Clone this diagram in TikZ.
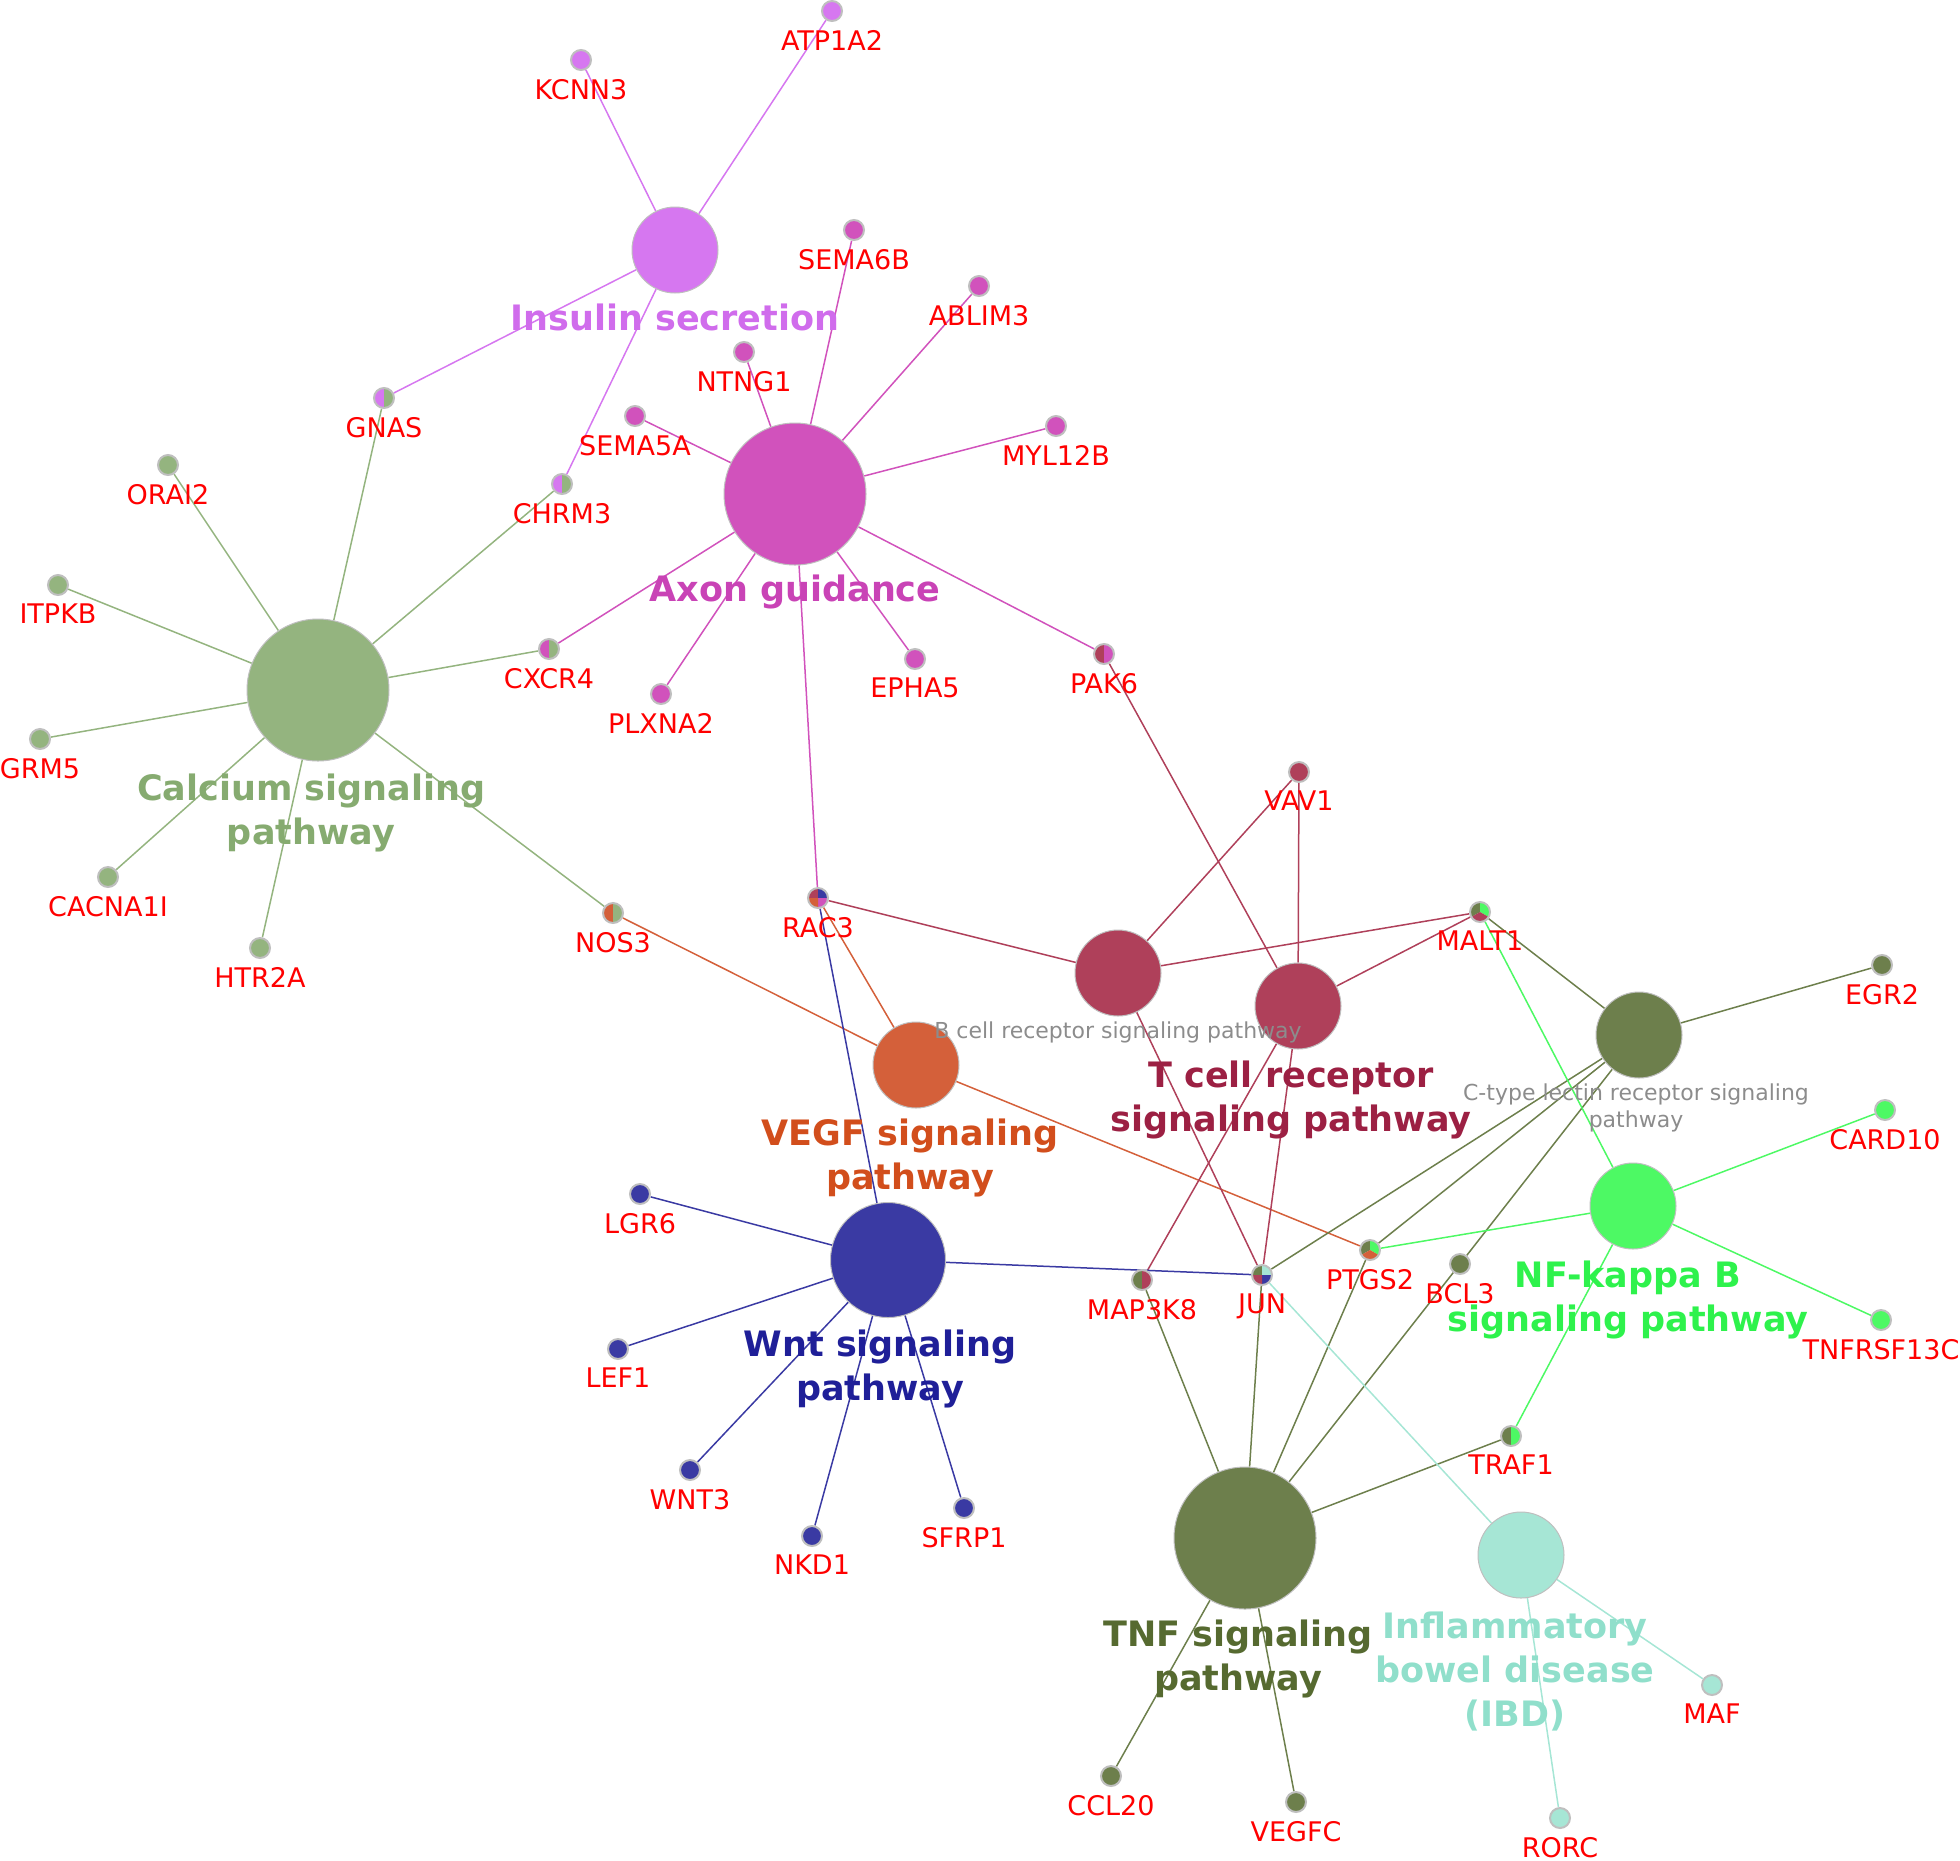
\documentclass[tikz,border=0pt]{standalone}
\usepackage{fontspec}
\setmainfont{DejaVu Sans}
\usepackage{xcolor}
\usetikzlibrary{positioning,backgrounds}

\definecolor{ins}{HTML}{D677F0}
\definecolor{axn}{HTML}{D152BC}
\definecolor{cal}{HTML}{94B47F}
\definecolor{vegf}{HTML}{D4603A}
\definecolor{tcr}{HTML}{AF405A}
\definecolor{olv}{HTML}{6D7F4C}
\definecolor{nfk}{HTML}{4DF964}
\definecolor{wnt}{HTML}{3A3AA3}
\definecolor{ibd}{HTML}{A6E6D5}
\definecolor{insl}{HTML}{D06CEC}
\definecolor{axnl}{HTML}{C943B6}
\definecolor{call}{HTML}{86AB70}
\definecolor{vegfl}{HTML}{D24E1C}
\definecolor{tcrl}{HTML}{9C2043}
\definecolor{tnfl}{HTML}{566A30}
\definecolor{nfkl}{HTML}{2EF24C}
\definecolor{wntl}{HTML}{1F1F98}
\definecolor{ibdl}{HTML}{90DFCB}

\begin{document}
\begin{tikzpicture}[
  x=0.5pt, y=-0.5pt,
  node distance=3.8pt,
  hub/.style={circle, draw=black!25, line width=0.5pt, inner sep=0pt, minimum size=43pt},
  midhub/.style={hub, minimum size=57.5pt},
  bighub/.style={hub, minimum size=71pt},
  gene/.style={circle, draw=black!25, line width=1pt, inner sep=0pt, minimum size=10pt},
  pie/.style={path picture={\foreach \a/\b/\c in {#1}
      \fill[\c] (path picture bounding box.center) -- ++(\a:8pt)
        arc[start angle=\a, end angle=\b, radius=8pt] -- cycle;}},
  glab/.style={text=red, inner sep=0pt, font=\fontsize{13.5}{16}\selectfont},
  hlab/.style={align=center, inner sep=0pt, font=\fontsize{17.5}{22}\selectfont\bfseries},
  slab/.style={align=center, inner sep=0pt, text=black!45, font=\fontsize{11}{13.5}\selectfont},
  edge/.style={line width=0.75pt}]
\useasboundingbox (0,0) rectangle (1960,1860);

% pathway hubs
\node[hub, fill=ins] (insh) at (675,250) {};
\node[bighub, fill=axn] (axnh) at (795,494) {};
\node[bighub, fill=cal] (calh) at (318,690) {};
\node[hub, fill=vegf] (vegfh) at (916,1065) {};
\node[hub, fill=tcr] (bcrh) at (1118,973) {};
\node[hub, fill=tcr] (tcrh) at (1298,1006) {};
\node[hub, fill=olv] (ctlh) at (1639,1035) {};
\node[hub, fill=nfk] (nfkh) at (1633,1206) {};
\node[midhub, fill=wnt] (wnth) at (888,1260) {};
\node[bighub, fill=olv] (tnfh) at (1245,1538) {};
\node[hub, fill=ibd] (ibdh) at (1521,1555) {};

\node[hlab, text=insl] (inst) at (675,317) {Insulin secretion};
\node[hlab, text=axnl] (axnt) at (795,592) {Axon guidance};
\node[hlab, text=call] (calt) at (311,813) {Calcium signaling\\pathway};
\node[hlab, text=vegfl] (vegft) at (910,1158) {VEGF signaling\\pathway};
\node[slab] (bcrt) at (1118,1032) {B cell receptor signaling pathway};
\node[hlab, text=tcrl] (tcrt) at (1291,1100) {T cell receptor\\signaling pathway};
\node[slab] (ctlt) at (1636,1108) {C-type lectin receptor signaling\\pathway};
\node[hlab, text=nfkl] (nfkt) at (1628,1300) {NF-kappa B\\signaling pathway};
\node[hlab, text=wntl] (wntt) at (880,1369) {Wnt signaling\\pathway};
\node[hlab, text=tnfl] (tnft) at (1238,1659) {TNF signaling\\pathway};
\node[hlab, text=ibdl] (ibdt) at (1515,1671) {Inflammatory\\bowel disease\\(IBD)};

% genes
\node[gene, fill=ins] (kcnn3) at (581,60) {};
\node[glab, below=of kcnn3] (kcnn3t) {KCNN3};
\node[gene, fill=ins] (atp1a2) at (832,11) {};
\node[glab, below=of atp1a2] (atp1a2t) {ATP1A2};
\node[gene, pie={90/270/ins,-90/90/cal}] (gnas) at (384,398) {};
\node[glab, below=of gnas] (gnast) {GNAS};
\node[gene, pie={90/270/ins,-90/90/cal}] (chrm3) at (562,484) {};
\node[glab, below=of chrm3] (chrm3t) {CHRM3};
\node[gene, fill=cal] (orai2) at (168,465) {};
\node[glab, below=of orai2] (orai2t) {ORAI2};
\node[gene, fill=cal] (itpkb) at (58,585) {};
\node[glab, below=of itpkb] (itpkbt) {ITPKB};
\node[gene, fill=cal] (grm5) at (40,739) {};
\node[glab, below=of grm5] (grm5t) {GRM5};
\node[gene, fill=cal] (cacna1i) at (108,877) {};
\node[glab, below=of cacna1i] (cacna1it) {CACNA1I};
\node[gene, fill=cal] (htr2a) at (260,948) {};
\node[glab, below=of htr2a] (htr2at) {HTR2A};
\node[gene, pie={90/270/vegf,-90/90/cal}] (nos3) at (613,913) {};
\node[glab, below=of nos3] (nos3t) {NOS3};
\node[gene, pie={90/270/axn,-90/90/cal}] (cxcr4) at (549,649) {};
\node[glab, below=of cxcr4] (cxcr4t) {CXCR4};
\node[gene, fill=axn] (sema5a) at (635,416) {};
\node[glab, below=of sema5a] (sema5at) {SEMA5A};
\node[gene, fill=axn] (ntng1) at (744,352) {};
\node[glab, below=of ntng1] (ntng1t) {NTNG1};
\node[gene, fill=axn] (sema6b) at (854,230) {};
\node[glab, below=of sema6b] (sema6bt) {SEMA6B};
\node[gene, fill=axn] (ablim3) at (979,286) {};
\node[glab, below=of ablim3] (ablim3t) {ABLIM3};
\node[gene, fill=axn] (myl12b) at (1056,426) {};
\node[glab, below=of myl12b] (myl12bt) {MYL12B};
\node[gene, fill=axn] (plxna2) at (661,694) {};
\node[glab, below=of plxna2] (plxna2t) {PLXNA2};
\node[gene, fill=axn] (epha5) at (915,659) {};
\node[glab, below=of epha5] (epha5t) {EPHA5};
\node[gene, pie={90/270/tcr,-90/90/axn}] (pak6) at (1104,654) {};
\node[glab, below=of pak6] (pak6t) {PAK6};
\node[gene, pie={90/180/tcr,0/90/wnt,-90/0/axn,180/270/vegf}] (rac3) at (818,898) {};
\node[glab, below=of rac3] (rac3t) {RAC3};
\node[gene, fill=tcr] (vav1) at (1299,772) {};
\node[glab, below=of vav1] (vav1t) {VAV1};
\node[gene, pie={90/210/olv,-30/90/nfk,210/330/tcr}] (malt1) at (1480,912) {};
\node[glab, below=of malt1] (malt1t) {MALT1};
\node[gene, fill=olv] (egr2) at (1882,965) {};
\node[glab, below=of egr2] (egr2t) {EGR2};
\node[gene, fill=nfk] (card10) at (1885,1110) {};
\node[glab, below=of card10] (card10t) {CARD10};
\node[gene, fill=nfk] (tnfrsf13c) at (1881,1320) {};
\node[glab, below=of tnfrsf13c] (tnfrsf13ct) {TNFRSF13C};
\node[gene, fill=wnt] (lgr6) at (640,1194) {};
\node[glab, below=of lgr6] (lgr6t) {LGR6};
\node[gene, fill=wnt] (lef1) at (618,1349) {};
\node[glab, below=of lef1] (lef1t) {LEF1};
\node[gene, fill=wnt] (wnt3) at (690,1470) {};
\node[glab, below=of wnt3] (wnt3t) {WNT3};
\node[gene, fill=wnt] (nkd1) at (812,1536) {};
\node[glab, below=of nkd1] (nkd1t) {NKD1};
\node[gene, fill=wnt] (sfrp1) at (964,1508) {};
\node[glab, below=of sfrp1] (sfrp1t) {SFRP1};
\node[gene, pie={90/270/olv,-90/90/tcr}] (map3k8) at (1142,1280) {};
\node[glab, below=of map3k8] (map3k8t) {MAP3K8};
\node[gene, pie={90/180/olv,0/90/ibd,-90/0/wnt,180/270/tcr}] (jun) at (1262,1275) {};
\node[glab, below=of jun] (junt) {JUN};
\node[gene, pie={90/210/olv,-30/90/nfk,210/330/vegf}] (ptgs2) at (1370,1250) {};
\node[glab, below=of ptgs2] (ptgs2t) {PTGS2};
\node[gene, fill=olv] (bcl3) at (1460,1264) {};
\node[glab, below=of bcl3] (bcl3t) {BCL3};
\node[gene, pie={90/270/olv,-90/90/nfk}] (traf1) at (1511,1436) {};
\node[glab, below=of traf1] (traf1t) {TRAF1};
\node[gene, fill=olv] (ccl20) at (1111,1776) {};
\node[glab, below=of ccl20] (ccl20t) {CCL20};
\node[gene, fill=olv] (vegfc) at (1296,1802) {};
\node[glab, below=of vegfc] (vegfct) {VEGFC};
\node[gene, fill=ibd] (maf) at (1712,1685) {};
\node[glab, below=of maf] (maft) {MAF};
\node[gene, fill=ibd] (rorc) at (1560,1818) {};
\node[glab, below=of rorc] (rorct) {RORC};

% edges
\begin{pgfonlayer}{background}
\draw[edge, ins] (insh) -- (kcnn3) (insh) -- (atp1a2) (insh) -- (gnas) (insh) -- (chrm3);
\draw[edge, axn] (axnh) -- (sema5a) (axnh) -- (ntng1) (axnh) -- (sema6b) (axnh) -- (ablim3)
  (axnh) -- (myl12b) (axnh) -- (pak6) (axnh) -- (epha5) (axnh) -- (plxna2)
  (axnh) -- (cxcr4) (axnh) -- (rac3);
\draw[edge, cal] (calh) -- (gnas) (calh) -- (orai2) (calh) -- (itpkb) (calh) -- (grm5)
  (calh) -- (cacna1i) (calh) -- (htr2a) (calh) -- (nos3) (calh) -- (cxcr4) (calh) -- (chrm3);
\draw[edge, vegf] (vegfh) -- (rac3) (vegfh) -- (nos3) (vegfh) -- (ptgs2);
\draw[edge, tcr] (bcrh) -- (rac3) (bcrh) -- (vav1) (bcrh) -- (malt1) (bcrh) -- (jun);
\draw[edge, tcr] (tcrh) -- (vav1) (tcrh) -- (malt1) (tcrh) -- (pak6) (tcrh) -- (map3k8) (tcrh) -- (jun);
\draw[edge, olv] (ctlh) -- (malt1) (ctlh) -- (egr2) (ctlh) -- (jun) (ctlh) -- (ptgs2) (ctlh) -- (bcl3);
\draw[edge, nfk] (nfkh) -- (malt1) (nfkh) -- (card10) (nfkh) -- (ptgs2) (nfkh) -- (tnfrsf13c) (nfkh) -- (traf1);
\draw[edge, wnt] (wnth) -- (rac3) (wnth) -- (lgr6) (wnth) -- (lef1) (wnth) -- (wnt3)
  (wnth) -- (nkd1) (wnth) -- (sfrp1) (wnth) -- (jun);
\draw[edge, olv] (tnfh) -- (map3k8) (tnfh) -- (jun) (tnfh) -- (ptgs2) (tnfh) -- (bcl3)
  (tnfh) -- (traf1) (tnfh) -- (ccl20) (tnfh) -- (vegfc);
\draw[edge, ibd] (ibdh) -- (jun) (ibdh) -- (maf) (ibdh) -- (rorc);
\end{pgfonlayer}
\end{tikzpicture}
\end{document}
